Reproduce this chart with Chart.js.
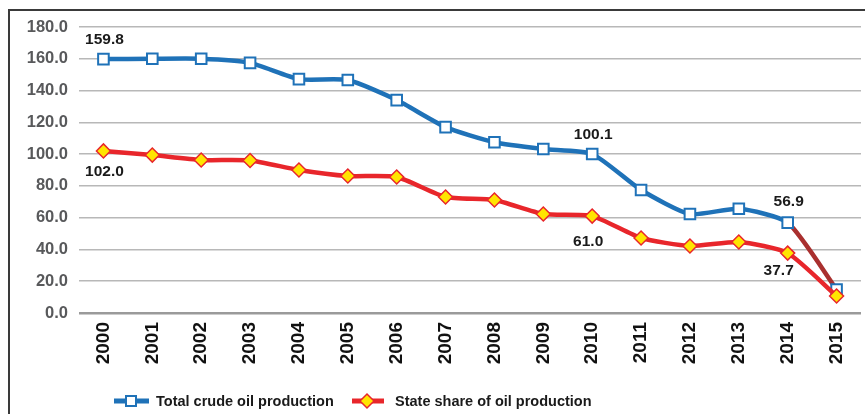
<!DOCTYPE html>
<html>
<head>
<meta charset="utf-8">
<script src="https://cdn.jsdelivr.net/npm/chart.js@4.4.1/dist/chart.umd.min.js"></script>
<style>
  html, body { margin: 0; padding: 0; background: #fff; }
  #wrap { position: relative; width: 865px; height: 414px; overflow: hidden; }
  #frame { position: absolute; left: 8px; top: 9px; width: 900px; height: 500px;
           border-left: 2px solid #3a3a3a; border-top: 2px solid #3a3a3a; }
  canvas { position: absolute; left: 0; top: 0; }
</style>
</head>
<body>
<div id="wrap">
  <div id="frame"></div>
  <canvas id="c" width="865" height="414"></canvas>
</div>
<script>
const years = ['2000','2001','2002','2003','2004','2005','2006','2007','2008','2009','2010','2011','2012','2013','2014','2015'];
const totalProduction = [159.8, 160.0, 160.0, 157.4, 147.2, 146.6, 134.0, 117.0, 107.5, 103.2, 100.1, 77.4, 62.3, 65.6, 56.9, 14.8];
const stateShare = [102.0, 99.4, 96.3, 96.0, 90.0, 86.2, 85.6, 73.0, 71.1, 62.3, 61.0, 47.2, 42.2, 44.7, 37.7, 10.7];
const yTicks = [0, 20, 40, 60, 80, 100, 120, 140, 160, 180];
const seriesNames = ['Total crude oil production', 'State share of oil production'];
// labelled points: [datasetIndex, pointIndex, dx, dy]
const labelled = [[0, 0, 1, -19], [1, 0, 1, 21], [0, 10, 1, -19], [1, 10, -4, 26], [0, 14, 1, -21], [1, 14, -9, 18]];

const BLUE = '#1f72b8', RED = '#e8262b', DARKRED = '#a9302f', YELLOW = '#ffe500';
const FONT = "'Liberation Sans', Arial, sans-serif";

const overlay = {
  id: 'overlay',
  afterDatasetsDraw(chart) {
    const ctx = chart.ctx;
    ctx.save();
    ctx.font = 'bold 15.5px ' + FONT;
    ctx.fillStyle = '#1a1a1a';
    ctx.textAlign = 'center';
    ctx.textBaseline = 'middle';
    for (const [ds, i, dx, dy] of labelled) {
      const pt = chart.getDatasetMeta(ds).data[i];
      ctx.fillText(chart.data.datasets[ds].data[i].toFixed(1), pt.x + dx, pt.y + dy);
    }
    // legend
    const ly = 401;
    const items = [
      {x0: 114, x1: 149, mx: 131, color: BLUE, tx: 156, style: 'rect'},
      {x0: 352, x1: 384, mx: 367, color: RED, tx: 395, style: 'rectRot'}
    ];
    items.forEach((it, k) => {
      ctx.strokeStyle = it.color; ctx.lineWidth = 5;
      ctx.beginPath(); ctx.moveTo(it.x0, ly); ctx.lineTo(it.x1, ly); ctx.stroke();
      if (it.style === 'rect') {
        ctx.fillStyle = '#fff'; ctx.lineWidth = 2;
        ctx.fillRect(it.mx - 5, ly - 5, 10, 10); ctx.strokeRect(it.mx - 5, ly - 5, 10, 10);
      } else {
        ctx.fillStyle = YELLOW; ctx.lineWidth = 1.5;
        ctx.beginPath(); ctx.moveTo(it.mx - 7, ly); ctx.lineTo(it.mx, ly - 7);
        ctx.lineTo(it.mx + 7, ly); ctx.lineTo(it.mx, ly + 7); ctx.closePath();
        ctx.fill(); ctx.stroke();
      }
      ctx.fillStyle = '#1a1a1a';
      ctx.font = 'bold 14.5px ' + FONT;
      ctx.textAlign = 'left';
      ctx.fillText(seriesNames[k], it.tx, ly + 1);
    });
    ctx.restore();
  }
};

new Chart(document.getElementById('c'), {
  type: 'line',
  data: {
    labels: years,
    datasets: [
      {
        label: seriesNames[0], data: totalProduction, order: 2,
        borderColor: BLUE, borderWidth: 4.5, tension: 0.2,
        segment: { borderColor: c => c.p0DataIndex === 14 ? DARKRED : BLUE },
        pointStyle: 'rect', pointRadius: 7.5, pointBorderWidth: 2,
        pointBackgroundColor: '#fff', pointBorderColor: BLUE
      },
      {
        label: seriesNames[1], data: stateShare, order: 1,
        borderColor: RED, borderWidth: 4.5, tension: 0.2,
        pointStyle: 'rectRot', pointRadius: 7, pointBorderWidth: 1.5,
        pointBackgroundColor: YELLOW, pointBorderColor: RED
      }
    ]
  },
  options: {
    responsive: false, animation: false, devicePixelRatio: 1,
    layout: { autoPadding: false, padding: { top: 27, right: 4, left: 0, bottom: 0 } },
    plugins: { legend: { display: false }, tooltip: { enabled: false } },
    scales: {
      x: {
        offset: true,
        grid: { display: false, drawTicks: false },
        border: { display: false },
        ticks: { maxRotation: 90, minRotation: 90, padding: 9, color: '#111',
                 font: { family: FONT, size: 19, weight: 'bold' } },
        afterFit(s) { s.height = 101; s.paddingLeft = 0; s.paddingRight = 0; }
      },
      y: {
        min: 0, max: 180,
        afterBuildTicks(s) { s.ticks = yTicks.map(v => ({ value: v })); },
        grid: {
          drawTicks: false,
          color: c => c.tick && c.tick.value === 0 ? '#9a9a9a' : '#b8b8b8',
          lineWidth: c => c.tick && c.tick.value === 0 ? 2.5 : 1.5
        },
        border: { display: false },
        ticks: { padding: 11, color: '#58595b', callback: v => Number(v).toFixed(1),
                 font: { family: FONT, size: 16.5, weight: 'bold' } },
        afterFit(s) { s.width = 79; s.paddingTop = 0; s.paddingBottom = 0; }
      }
    }
  },
  plugins: [overlay]
});
</script>
</body>
</html>
